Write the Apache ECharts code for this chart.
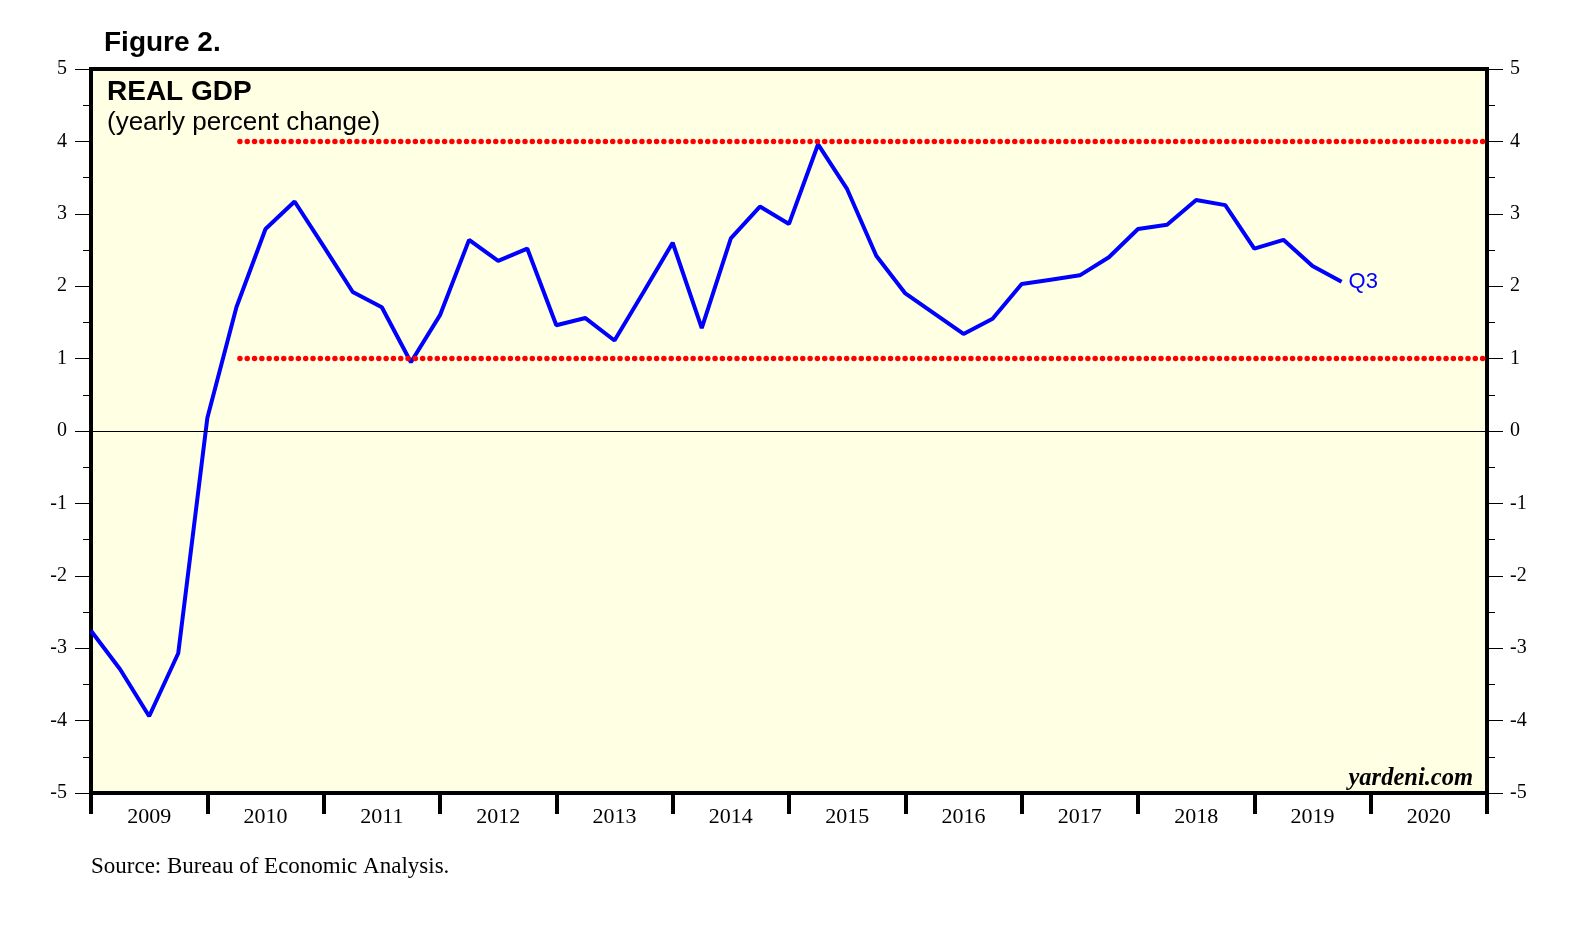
<!DOCTYPE html>
<html>
<head>
<meta charset="utf-8">
<script src="https://cdn.jsdelivr.net/npm/echarts@6/dist/echarts.min.js"></script>
<style>
  html, body { margin: 0; padding: 0; background: #ffffff; }
  #chart { width: 1575px; height: 935px; }
</style>
</head>
<body>
<div id="chart"></div>
<script>
// ---- Data ----
const quarters = [
  '2008Q4',
  '2009Q1','2009Q2','2009Q3','2009Q4',
  '2010Q1','2010Q2','2010Q3','2010Q4',
  '2011Q1','2011Q2','2011Q3','2011Q4',
  '2012Q1','2012Q2','2012Q3','2012Q4',
  '2013Q1','2013Q2','2013Q3','2013Q4',
  '2014Q1','2014Q2','2014Q3','2014Q4',
  '2015Q1','2015Q2','2015Q3','2015Q4',
  '2016Q1','2016Q2','2016Q3','2016Q4',
  '2017Q1','2017Q2','2017Q3','2017Q4',
  '2018Q1','2018Q2','2018Q3','2018Q4',
  '2019Q1','2019Q2','2019Q3'
];
const gdpYoY = [
  -2.76,
  -3.29, -3.94, -3.07, 0.18,
  1.71, 2.79, 3.17, 2.55,
  1.92, 1.71, 0.95, 1.60,
  2.64, 2.35, 2.52, 1.46,
  1.56, 1.25, 1.92, 2.60,
  1.42, 2.66, 3.10, 2.86,
  3.96, 3.34, 2.42, 1.90,
  1.62, 1.34, 1.55, 2.03,
  2.09, 2.15, 2.40, 2.79,
  2.85, 3.19, 3.12, 2.52,
  2.64, 2.28, 2.06
];
const yearLabels = ['2009','2010','2011','2012','2013','2014','2015','2016','2017','2018','2019','2020'];
const refLevels = [4, 1];
const refStart = 2010.28;
const lastLabel = 'Q3';

// quarterly values plotted at the end of their quarter (fractional year)
function quarterEnd(q) { return +q.slice(0, 4) + (+q.slice(5)) / 4; }
const gdpPoints = quarters.map((q, i) => [quarterEnd(q), gdpYoY[i]]);
const xMin = +yearLabels[0];
const xMax = +yearLabels[yearLabels.length - 1] + 1;

const serif = 'Liberation Serif, Times New Roman, serif';
const sans = 'Liberation Sans, Arial, sans-serif';

const yAxisCommon = {
  type: 'value', min: -5, max: 5, interval: 1,
  axisLine: { show: false },
  axisTick: { show: true, inside: false, length: 16, lineStyle: { color: '#000', width: 1 } },
  minorTick: { show: true, splitNumber: 2, length: 8, lineStyle: { color: '#000', width: 1 } },
  splitLine: { show: false },
  axisLabel: { color: '#000', fontFamily: serif, fontSize: 20 }
};

const chart = echarts.init(document.getElementById('chart'), null, { renderer: 'canvas' });
chart.setOption({
  animation: false,
  backgroundColor: '#ffffff',
  title: [
    { text: 'Figure 2.', left: 104, top: 29, padding: 0,
      textStyle: { fontFamily: sans, fontSize: 28, fontWeight: 'bold', color: '#000' } },
    { text: 'REAL GDP', left: 107, top: 78, padding: 0,
      textStyle: { fontFamily: sans, fontSize: 28, fontWeight: 'bold', color: '#000' } },
    { text: '(yearly percent change)', left: 107, top: 110, padding: 0,
      textStyle: { fontFamily: sans, fontSize: 26, fontWeight: 'normal', color: '#000' } },
    { text: 'yardeni.com', right: 102, top: 766, padding: 0,
      textStyle: { fontFamily: serif, fontSize: 24.5, fontWeight: 'bold', fontStyle: 'italic', color: '#000' } },
    { text: 'Source: Bureau of Economic Analysis.', left: 91, top: 855, padding: 0,
      textStyle: { fontFamily: serif, fontSize: 23, fontWeight: 'normal', color: '#000' } }
  ],
  grid: {
    left: 91, right: 88, top: 69, bottom: 142,
    show: true, backgroundColor: '#ffffe4', borderColor: '#000', borderWidth: 4
  },
  xAxis: [
    { type: 'value', min: xMin, max: xMax, position: 'top', show: false },
    { type: 'category', data: yearLabels, position: 'bottom', boundaryGap: true,
      axisLine: { show: true, onZero: false, lineStyle: { color: '#000', width: 4 } },
      axisTick: { show: true, length: 21, lineStyle: { color: '#000', width: 4 } },
      axisLabel: { color: '#000', fontFamily: serif, fontSize: 22, margin: 13 },
      splitLine: { show: false } }
  ],
  yAxis: [
    Object.assign({}, yAxisCommon, { position: 'left',
      axisLabel: Object.assign({}, yAxisCommon.axisLabel, { margin: 24 }) }),
    Object.assign({}, yAxisCommon, { position: 'right',
      axisLabel: Object.assign({}, yAxisCommon.axisLabel, { margin: 23 }) })
  ],
  series: [
    {
      type: 'line', xAxisIndex: 0, yAxisIndex: 0, data: gdpPoints,
      showSymbol: false, symbol: 'none', clip: true, z: 3,
      lineStyle: { color: '#0000ff', width: 4 },
      endLabel: { show: true, formatter: lastLabel, color: '#0000ff',
        fontFamily: sans, fontSize: 22, distance: 7 },
      markLine: {
        silent: true, symbol: 'none', label: { show: false },
        lineStyle: { color: '#000', width: 1, type: 'solid' },
        data: [{ yAxis: 0 }]
      }
    }
  ].concat(refLevels.map(v => ({
    type: 'line', xAxisIndex: 0, yAxisIndex: 0,
    data: [[refStart, v], [xMax, v]],
    showSymbol: false, symbol: 'none', clip: false, z: 4,
    lineStyle: { color: '#ff0000', width: 5.5, type: [0.01, 7.3], cap: 'round' }
  })))
});
</script>
</body>
</html>
